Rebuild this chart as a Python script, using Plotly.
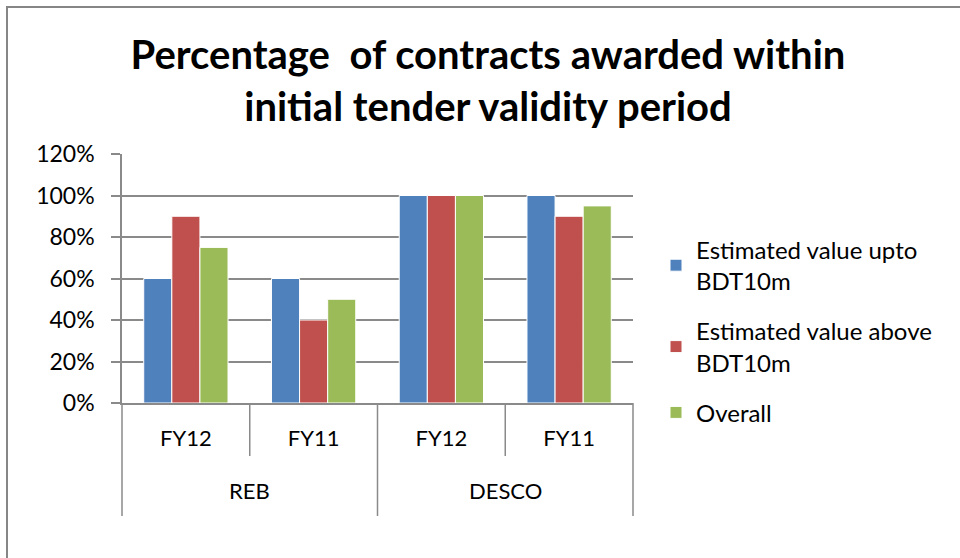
import plotly.graph_objects as go

groups = ["REB", "REB", "DESCO", "DESCO"]
years = ["FY12", "FY11", "FY12", "FY11"]
series_names = ["Estimated value upto<br>BDT10m", "Estimated value above<br>BDT10m", "Overall"]
upto_10m = [0.60, 0.60, 1.00, 1.00]
above_10m = [0.90, 0.40, 1.00, 0.90]
overall = [0.75, 0.50, 1.00, 0.95]
colors = ["#4F81BD", "#C0504D", "#9BBB59"]
y_ticks = [0, 0.2, 0.4, 0.6, 0.8, 1.0, 1.2]
y_tick_labels = ["0%", "20%", "40%", "60%", "80%", "100%", "120%"]

FONT = "Lato, 'Open Sans', sans-serif"
GRID = "#8a8a8a"

keys = [f"{g}|{y}" for g, y in zip(groups, years)]
n = len(keys)

fig = go.Figure()
for name, vals, col in zip(series_names, [upto_10m, above_10m, overall], colors):
    fig.add_trace(go.Bar(
        x=keys, y=vals, name=name, legendgroup=name,
        marker=dict(color=col, line=dict(color="white", width=1)),
    ))

L, R, T, B = 122, 327, 154, 155
W, H = 960 - L - R, 558 - T - B


def py(pix):
    return (403 - pix) / H


fig.update_layout(
    width=960, height=558,
    margin=dict(l=L, r=R, t=T, b=B),
    paper_bgcolor="white", plot_bgcolor="white",
    barmode="group", bargap=0.34, bargroupgap=0.0,
    font=dict(family=FONT, size=22, color="#000000"),
    title=dict(
        text="<b>Percentage  of contracts awarded within<br>initial tender validity period</b>",
        x=(488 - L) / W, xref="paper", xanchor="center",
        y=1 - 69 / 558, yref="container", yanchor="middle",
        font=dict(family=FONT, size=40, color="#000000"),
    ),
    legend=dict(
        x=(656 - L) / W, xanchor="left", y=py(331), yanchor="middle",
        font=dict(family=FONT, size=24, color="#000000"),
        tracegroupgap=16, itemwidth=30, bgcolor="rgba(0,0,0,0)",
    ),
    showlegend=True,
)
fig.update_yaxes(
    range=[0, 1.2], tickvals=y_ticks, ticktext=y_tick_labels,
    showgrid=True, gridcolor=GRID, gridwidth=1.5,
    showline=True, linecolor=GRID, linewidth=1.5,
    ticks="outside", ticklen=9, tickcolor=GRID, tickwidth=1.5,
    ticklabelstandoff=12,
    zeroline=False, tickfont=dict(family=FONT, size=23, color="#000000"),
)
fig.update_xaxes(
    type="category", tickvals=keys, ticktext=years,
    showline=True, linecolor=GRID, linewidth=1.5,
    ticks="", ticklabelstandoff=15,
    tickfont=dict(family=FONT, size=22, color="#000000"),
)

# category separators below the axis
for k in range(n + 1):
    is_group_edge = k == 0 or k == n or groups[k] != groups[k - 1]
    fig.add_shape(
        type="line", xref="paper", yref="paper",
        x0=k / n, x1=k / n, y0=py(403), y1=py(516 if is_group_edge else 456),
        line=dict(color=GRID, width=1.5),
    )

# group labels
seen = []
for g in groups:
    if g not in seen:
        seen.append(g)
for g in seen:
    idx = [i for i, gg in enumerate(groups) if gg == g]
    fig.add_annotation(
        x=sum(idx) / len(idx), xref="x", y=py(490), yref="paper",
        text=g, showarrow=False, xanchor="center", yanchor="middle",
        font=dict(family=FONT, size=22, color="#000000"),
    )

# chart border
fig.add_shape(
    type="rect", xref="paper", yref="paper",
    x0=(7 - L) / W, x1=(1000 - L) / W, y0=py(600), y1=py(7),
    line=dict(color="#868686", width=2), fillcolor="rgba(0,0,0,0)", layer="below",
)
fig.write_html("out.html", config={"displayModeBar": False},
               post_script="document.body.style.margin='0';")
